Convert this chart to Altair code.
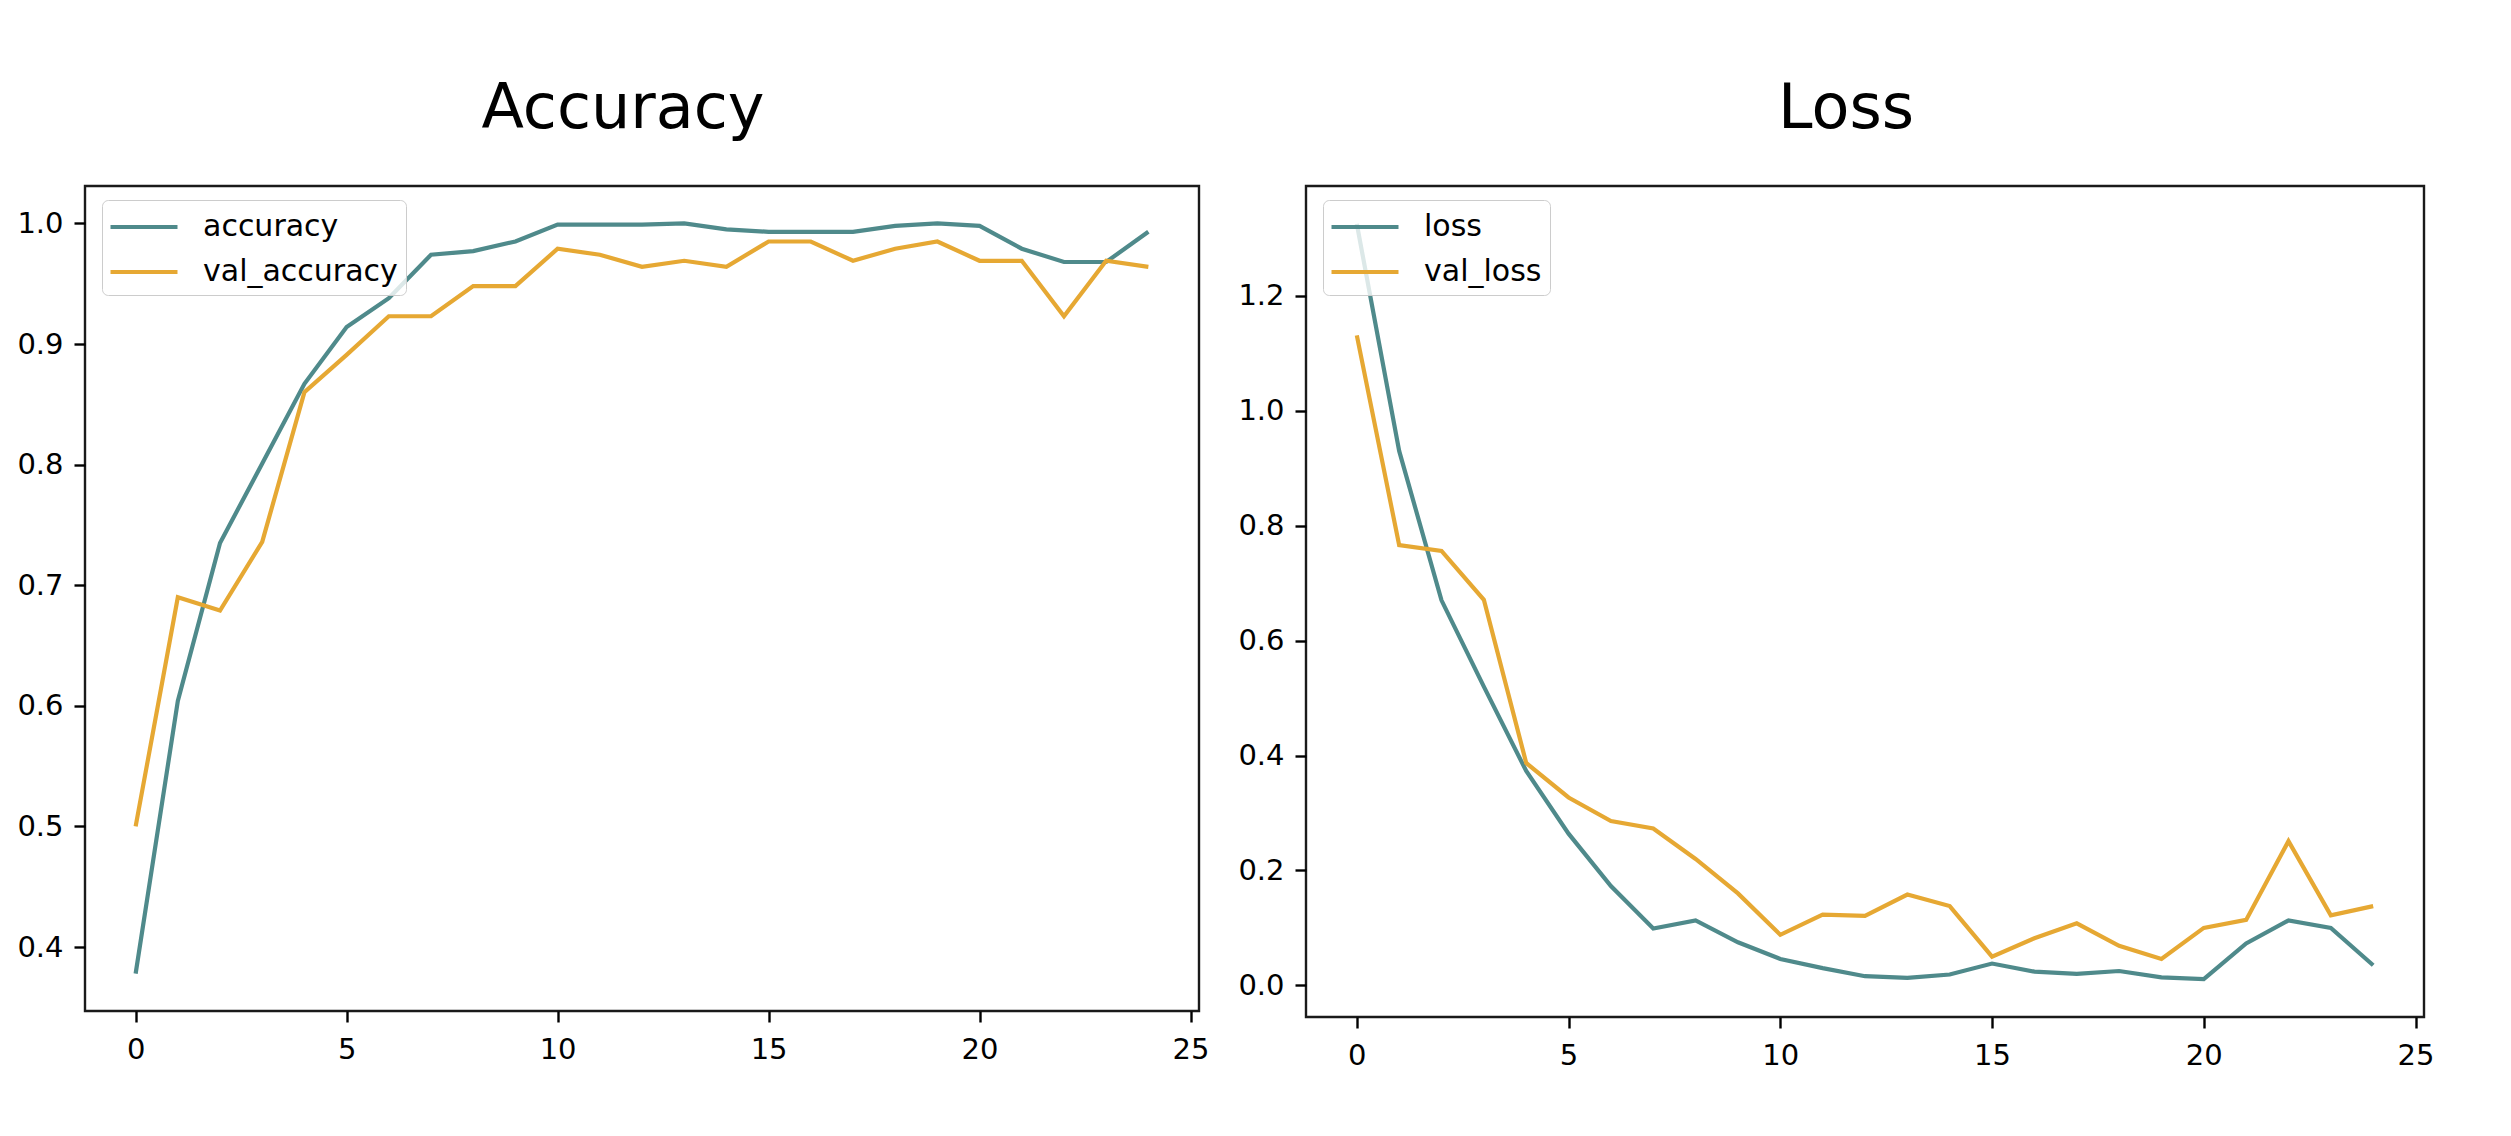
import altair as alt
import pandas as pd

epochs = list(range(25))

accuracy = [0.378, 0.604, 0.735, 0.801, 0.867, 0.914, 0.938, 0.974, 0.977, 0.985,
            0.999, 0.999, 0.999, 1.000, 0.995, 0.993, 0.993, 0.993, 0.998, 1.000,
            0.998, 0.979, 0.968, 0.968, 0.993]
val_accuracy = [0.500, 0.690, 0.679, 0.736, 0.860, 0.891, 0.923, 0.923, 0.948, 0.948,
                0.979, 0.974, 0.964, 0.969, 0.964, 0.985, 0.985, 0.969, 0.979, 0.985,
                0.969, 0.969, 0.923, 0.969, 0.964]
loss = [1.325, 0.930, 0.670, 0.520, 0.373, 0.264, 0.173, 0.099, 0.113, 0.075,
        0.046, 0.030, 0.016, 0.013, 0.019, 0.038, 0.024, 0.020, 0.025, 0.014,
        0.011, 0.073, 0.113, 0.100, 0.035]
val_loss = [1.131, 0.766, 0.756, 0.671, 0.387, 0.327, 0.286, 0.273, 0.220, 0.160,
            0.088, 0.123, 0.121, 0.158, 0.138, 0.050, 0.082, 0.108, 0.069, 0.046,
            0.100, 0.114, 0.251, 0.122, 0.138]

acc_series = ["accuracy", "val_accuracy"]
loss_series = ["loss", "val_loss"]
line_colors = ["#4f8a8b", "#e6a833"]

x_ticks = [0, 5, 10, 15, 20, 25]
acc_ticks = [0.4, 0.5, 0.6, 0.7, 0.8, 0.9, 1.0]
loss_ticks = [0.0, 0.2, 0.4, 0.6, 0.8, 1.0, 1.2]

acc_df = pd.DataFrame({
    "epoch": epochs + epochs,
    "value": accuracy + val_accuracy,
    "series": [acc_series[0]] * len(epochs) + [acc_series[1]] * len(epochs),
})
loss_df = pd.DataFrame({
    "epoch": epochs + epochs,
    "value": loss + val_loss,
    "series": [loss_series[0]] * len(epochs) + [loss_series[1]] * len(epochs),
})

FONT = "DejaVu Sans"
LW = 4.2


def x_axis():
    return alt.Axis(values=x_ticks, format="d", title=None, domain=False, grid=False,
                    tickSize=11, tickWidth=2.4, tickColor="black",
                    labelFontSize=29, labelFont=FONT, labelColor="black",
                    labelPadding=13, labelFlush=False, labelOverlap=False)


def y_axis(vals):
    return alt.Axis(values=vals, format=".1f", title=None, domain=False, grid=False,
                    tickSize=11, tickWidth=2.4, tickColor="black",
                    labelFontSize=29, labelFont=FONT, labelColor="black",
                    labelPadding=11, minExtent=75, maxExtent=75, labelOverlap=False)


def legend():
    return alt.Legend(title=None, orient="none", legendX=17, legendY=14,
                      symbolType="M-2,0L2,0", symbolSize=1122, symbolStrokeWidth=LW,
                      symbolOffset=15, labelOffset=40, labelFontSize=30, labelFont=FONT,
                      labelColor="black", labelLimit=500, rowPadding=11, padding=8,
                      fillColor="rgba(255,255,255,0.8)", strokeColor="#cccccc",
                      cornerRadius=6)


def title(text):
    return alt.TitleParams(text, fontSize=62, font=FONT, fontWeight="normal", color="black",
                           anchor="middle", frame="group", offset=-4, baseline="alphabetic",
                           dx=-19)


def panel(df, series, ydomain, yticks, name, w, h):
    return alt.Chart(df).mark_line(strokeWidth=LW).encode(
        x=alt.X("epoch:Q", scale=alt.Scale(domain=[-1.2, 25.2], nice=False, zero=False),
                axis=x_axis()),
        y=alt.Y("value:Q", scale=alt.Scale(domain=ydomain, nice=False, zero=False),
                axis=y_axis(yticks)),
        color=alt.Color("series:N", scale=alt.Scale(domain=series, range=line_colors),
                        legend=legend()),
    ).properties(width=w, height=h, title=title(name))


left = panel(acc_df, acc_series, [0.347, 1.031], acc_ticks, "Accuracy", 1114, 825)
right = panel(loss_df, loss_series, [-0.055, 1.391], loss_ticks, "Loss", 1118, 831)

chart = alt.hconcat(left, right, spacing=107, bounds="flush").resolve_scale(
    x="independent", y="independent", color="independent"
).resolve_legend(color="independent").properties(
    padding={"left": 0, "top": 68, "right": 20, "bottom": 20},
    background="white",
).configure_view(stroke="#1a1a1a", strokeWidth=2.4)

chart.save("out.html", embed_options={"renderer": "svg", "actions": False})
